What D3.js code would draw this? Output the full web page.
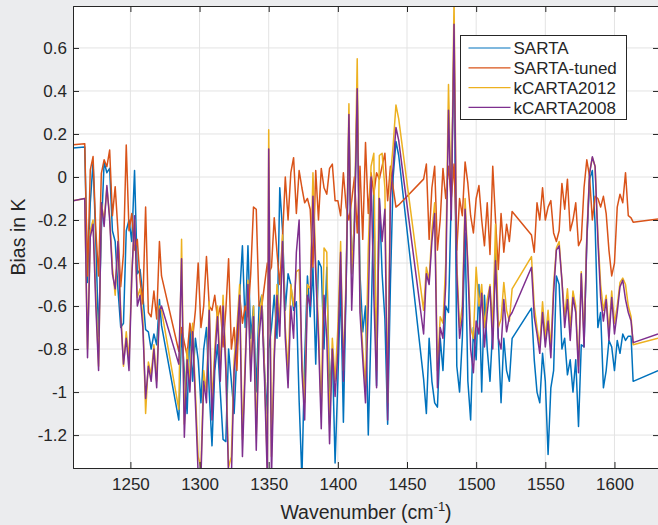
<!DOCTYPE html>
<html>
<head>
<meta charset="utf-8">
<script src="https://cdn.jsdelivr.net/npm/d3@7"></script>
<style>
  body { margin: 0; background: #ebecee; }
  #visContainer { width: 658px; height: 525px; overflow: hidden; }
  text { font-family: "Liberation Sans", Arial, Helvetica, sans-serif; fill: #262626; }
</style>
</head>
<body>
<div id="visContainer"></div>
<script>
'use strict';

// wavenumbers (cm-1) shared by all four series
var wavenumbers = [
  1208.5, 1217, 1219, 1221, 1223, 1225, 1227, 1229, 1231, 1233, 1235, 1237, 1239, 1241, 1243,
  1245, 1247, 1249, 1251, 1253, 1255, 1257, 1259, 1261, 1263, 1265, 1267, 1269, 1271, 1272.5,
  1285, 1287, 1289, 1291, 1293, 1295, 1297, 1299, 1301, 1303, 1305, 1307, 1309, 1311, 1313,
  1315, 1317, 1319, 1321, 1323, 1325, 1327, 1329, 1331, 1333, 1335, 1337, 1339, 1341, 1343,
  1345, 1347, 1349, 1350,
  1352, 1354, 1356, 1358, 1360, 1362, 1364, 1366, 1368, 1370, 1372, 1374, 1376, 1378, 1380,
  1382, 1384, 1386, 1388, 1390, 1392, 1394, 1396, 1398, 1400, 1402, 1404, 1406, 1408, 1410,
  1412, 1414, 1416, 1418, 1420, 1422, 1424, 1426, 1428, 1430, 1432, 1434, 1436, 1438, 1440,
  1442, 1444,
  1462, 1464, 1466, 1468, 1470, 1472, 1474, 1476, 1478, 1480, 1482, 1484, 1486, 1488, 1490,
  1492, 1494, 1496, 1498, 1500, 1502, 1504, 1506, 1508, 1510, 1512, 1514, 1516, 1518, 1520,
  1522, 1524, 1526, 1540,
  1542, 1544, 1546, 1548, 1550, 1552, 1554, 1556, 1558, 1560, 1562, 1564, 1566, 1568, 1570,
  1572, 1574, 1576, 1578, 1580, 1582, 1584, 1586, 1588, 1590, 1592, 1594, 1596, 1598, 1600,
  1602, 1604, 1606, 1608, 1610, 1612, 1613.5, 1631.5
];

var sarta = [
  0.135, 0.14, -0.49, -0.12, 0.07, -0.3, -0.74, -0.25, 0.07, 0.02, 0.04, -0.25, -0.3, -0.52, -0.7,
  -0.68, -0.25, -0.2, -0.3, 0.03, -0.45, -0.43, -0.55, -0.71, -0.72, -0.8, -0.73, -0.78, -0.57, -0.69,
  -1.13, -0.72, -0.9, -1.1, -0.7, -0.95, -0.75, -0.85, -1.05, -0.8, -0.7, -1.0, -1.25, -0.9, -0.78,
  -1.0, -1.22, -1.23, -0.8, -0.95, -1.1, -0.82, -0.55, -0.32, -0.7, -0.32, -0.75, -0.6, -1.0, -0.6,
  -0.55, -0.9, -1.1, -0.8,
  -0.7, -0.55, -0.75, -0.05, -0.25, -0.62, -0.45, -0.5, -0.62, -0.58, -1.04, -1.4, -0.85, -0.46, -0.65,
  -0.42, -0.87, -0.39, -0.42, -0.8, -0.42, -1.0, -0.8, -1.33, -0.95, -0.5, -1.14, -0.5, 0.25, -0.45,
  -0.2, 0.38, -0.45, -0.72, -0.6, -1.2, -0.7, -0.08, -0.97, -0.1, -0.45, -0.66, -1.15, -0.5, 0.0,
  0.165, 0.1,
  -0.94, -1.1, -0.75, -0.95, -1.05, -1.07, -0.75, -0.9, -0.6, -0.63, -0.1, 0.62, -0.88, -1.0, -0.75,
  -0.26, -0.95, -1.13, -0.7, -0.85, -0.5, -1.0, -0.55, -0.8, -0.95, -0.7, -0.34, -0.75, -1.05, -0.75,
  -0.9, -0.95, -0.75, -0.61,
  -0.85, -1.0, -1.05, -0.82, -0.95, -1.29, -0.98, -0.9, -0.46, -0.5, -0.8, -0.75, -0.92, -0.85, -1.0,
  -0.85, -1.16, -0.78, -0.79, -0.3, -0.01, 0.03, -0.22, -0.7, -0.63, -0.98, -0.9, -0.76, -0.79, -0.9,
  -0.76, -0.82, -0.73, -0.76, -0.74, -0.74, -0.95, -0.9
];

var sartaTuned = [
  0.15, 0.155, -0.46, 0.033, 0.095, -0.25, -0.46, 0.017, 0.08, 0.048, 0.125, -0.18, -0.045, -0.25, -0.51,
  -0.355, 0.149, -0.25, -0.17, -0.34, -0.29, -0.48, -0.59, -0.14, -0.63, -0.65, -0.53, -0.66, -0.3, -0.46,
  -0.81, -0.7, -0.77, -0.83, -0.68, -0.75, -0.62, -0.4, -0.7, -0.6, -0.37, -0.6, -0.62, -0.55, -0.66,
  -0.6, -0.79, -0.62, -0.38, -0.8, -0.7, -0.9, -0.55, -0.68, -0.6, -0.65, -0.45, -0.14, -0.15, -0.6,
  -0.6, -0.5, -0.4, -0.45,
  -0.42, -0.19, -0.35, -0.5, -0.28, 0.0, -0.2, 0.02, 0.09, -0.17, 0.03, -0.05, -0.12, -0.1, -0.15,
  -0.42, 0.03, -0.2, 0.04, -0.05, -0.08, 0.04, 0.06, -0.11, -0.11, -0.18, 0.02, -0.14, -0.2, -0.11,
  0.0, -0.26, 0.05, -0.29, 0.16, -0.17, 0.02, -0.08, 0.02, -0.01, 0.05, 0.11, -0.11, 0.05, -0.05,
  -0.14, -0.13,
  -0.01, 0.06, -0.29, -0.05, 0.05, -0.34, -0.2, 0.04, -0.1, 0.05, -0.1, 0.06, -0.34, -0.1, -0.18,
  0.07, -0.03, -0.18, -0.26, -0.1, -0.04, -0.2, -0.32, -0.12, -0.36, 0.05, -0.2, -0.43, -0.17, -0.35,
  -0.22, -0.3, -0.16, -0.27,
  -0.35, -0.12, -0.2, -0.05, -0.2, -0.14, -0.11, -0.26, -0.3, -0.25, -0.03, -0.15, -0.01, -0.25, -0.2,
  -0.12, -0.32, -0.29, -0.05, 0.08, 0.0, -0.2, -0.09, -0.1, -0.14, -0.09, -0.17, -0.34, -0.46, -0.4,
  -0.14, -0.08, -0.12, 0.02, -0.18, -0.19, -0.21, -0.195
];

var kcarta2012 = [
  -0.11, -0.10, -0.8, -0.25, -0.2, -0.55, -0.88, -0.12, -0.2, -0.05, -0.18, -0.42, -0.55, -0.3, -0.62,
  -0.88, -0.72, -0.85, -0.45, -0.2, -0.56, -0.52, -0.65, -1.1, -0.86, -0.92, -0.78, -0.95, -0.6, -0.62,
  -1.08, -0.29, -1.15, -0.8, -0.95, -0.68, -1.0, -1.3, -1.35, -0.9, -1.0, -0.58, -1.05, -0.8, -0.6,
  -0.9, -0.55, -0.85, -1.35, -1.3, -0.85, -0.7, -0.5, -1.22, -0.85, -0.48, -0.9, -0.6, -1.2, -0.7,
  -0.55, -0.9, -1.35, 0.22,
  -1.3, -0.8, -0.5, -0.68, -0.27, -0.7, -0.9, -0.5, -0.6, -0.44, -0.43, -0.85, -1.05, -0.5, -0.52,
  0.02, -0.4, -0.7, -1.1, -0.33, -0.35, -1.15, -0.75, -0.95, -0.7, -0.3, -0.9, -0.45, 0.34, -0.45,
  -0.2, 0.55, -0.58, -0.8, -0.98, -0.33, 0.05, 0.11, -0.9, 0.1, 0.11, -0.05, -1.05, 0.0, 0.15,
  0.335, 0.27,
  -0.62, -0.42, -0.48, -0.25, -0.12, -0.9, -0.65, -0.68, -0.4, 0.43, -0.15, 0.82, -0.4, -0.7, -0.6,
  -0.1, -0.4, -0.7, -0.75, -0.42, -0.6, -0.5, -0.7, -0.57, -0.5, -0.7, -0.22, -0.7, -0.66, -0.49,
  -0.62, -0.67, -0.52, -0.37,
  -0.6, -0.7, -0.78, -0.58, -0.75, -0.62, -0.8, -0.5, -0.33, -0.3, -0.48, -0.65, -0.52, -0.7, -0.53,
  -0.6, -0.88, -0.44, -0.75, -0.27, 0.02, 0.09, 0.05, -0.27, -0.5, -0.62, -0.55, -0.72, -0.53, -0.68,
  -0.6, -0.49, -0.47, -0.5, -0.6, -0.65, -0.78, -0.75
];

var kcarta2008 = [
  -0.11, -0.10, -0.84, -0.28, -0.22, -0.6, -0.9, -0.12, -0.23, -0.04, -0.2, -0.45, -0.52, -0.3, -0.65,
  -0.87, -0.75, -0.9, -0.47, -0.18, -0.6, -0.55, -0.7, -1.03, -0.88, -0.95, -0.8, -0.98, -0.62, -0.6,
  -0.87, -0.38, -1.21, -0.85, -1.0, -0.72, -1.05, -1.38, -1.4, -0.95, -1.05, -0.62, -1.13, -0.85, -0.65,
  -0.95, -0.6, -0.9, -1.4, -1.4, -0.9, -0.75, -0.55, -1.3, -0.9, -0.5, -0.95, -0.65, -1.27, -0.75,
  -0.6, -0.95, -1.4, 0.13,
  -1.4, -0.85, -0.55, -0.74, -0.3, -0.75, -0.98, -0.6, -0.75, -0.35, -0.2, -0.9, -1.13, -0.55, -0.6,
  -0.09, -0.45, -0.75, -1.17, -0.55, -0.75, -1.24, -0.8, -1.02, -0.82, -0.35, -0.95, -0.5, 0.29, -0.62,
  -0.25, 0.41, -0.63, -0.85, -1.05, -0.6, 0.0, -0.55, -0.98, -0.1, -0.3, -0.15, -1.13, -0.1, 0.05,
  0.23, 0.17,
  -0.73, -0.45, -0.5, -0.3, -0.17, -0.98, -0.7, -0.75, -0.5, 0.31, -0.2, 0.71, -0.45, -0.75, -0.65,
  -0.15, -0.42, -0.8, -0.91, -0.67, -0.73, -0.54, -0.79, -0.63, -0.51, -0.8, -0.39, -0.75, -0.8, -0.57,
  -0.72, -0.65, -0.63, -0.42,
  -0.65, -0.73, -0.82, -0.63, -0.79, -0.67, -0.84, -0.54, -0.34, -0.32, -0.48, -0.7, -0.57, -0.76, -0.56,
  -0.63, -0.91, -0.45, -0.79, -0.29, 0.017, 0.094, 0.048, -0.29, -0.56, -0.67, -0.57, -0.76, -0.56, -0.73,
  -0.63, -0.51, -0.48, -0.57, -0.63, -0.67, -0.77, -0.73
];

var seriesNames = ['SARTA', 'SARTA-tuned', 'kCARTA2012', 'kCARTA2008'];
var seriesColors = ['#0072bd', '#d95319', '#edb120', '#7e2f8e'];
var seriesValues = [sarta, sartaTuned, kcarta2012, kcarta2008];
var xTicks = [1250, 1300, 1350, 1400, 1450, 1500, 1550, 1600];
var yTicks = [-1.2, -1, -0.8, -0.6, -0.4, -0.2, 0, 0.2, 0.4, 0.6];

var width = 658;
var height = 525;
var plot = { left: 73, top: 6, right: 659, bottom: 468 };
var tickLen = 6;
var axisColor = '#262626';

var svg = d3.select('#visContainer')
    .append('svg')
    .attr('width', width)
    .attr('height', height);

svg.append('rect')
    .attr('width', width).attr('height', height)
    .attr('fill', '#ebecee');

var x = d3.scaleLinear()
    .domain([1208.5, 1632.2])
    .range([plot.left, plot.right]);
var y = d3.scaleLinear()
    .domain([-1.353, 0.795])
    .range([plot.bottom, plot.top]);

svg.append('rect')
    .attr('x', plot.left).attr('y', plot.top)
    .attr('width', plot.right - plot.left).attr('height', plot.bottom - plot.top)
    .attr('fill', 'white');

// grid
svg.append('g')
    .selectAll('line.vg').data(xTicks).enter().append('line')
    .attr('x1', function(d){ return x(d); }).attr('x2', function(d){ return x(d); })
    .attr('y1', plot.top).attr('y2', plot.bottom)
    .attr('stroke', '#e3e3e3').attr('stroke-width', 1);
svg.append('g')
    .selectAll('line.hg').data(yTicks).enter().append('line')
    .attr('y1', function(d){ return y(d); }).attr('y2', function(d){ return y(d); })
    .attr('x1', plot.left).attr('x2', plot.right)
    .attr('stroke', '#e3e3e3').attr('stroke-width', 1);

svg.append('clipPath').attr('id', 'plotClip')
    .append('rect')
    .attr('x', plot.left).attr('y', plot.top)
    .attr('width', plot.right - plot.left).attr('height', plot.bottom - plot.top);

var line = d3.line()
    .x(function(d){ return x(d[0]); })
    .y(function(d){ return y(d[1]); });

var lines = svg.append('g').attr('clip-path', 'url(#plotClip)');
seriesValues.forEach(function(vals, i){
  var pts = wavenumbers.map(function(w, j){ return [w, vals[j]]; });
  lines.append('path')
      .attr('d', line(pts))
      .attr('fill', 'none')
      .attr('stroke', seriesColors[i])
      .attr('stroke-width', 1.5)
      .attr('stroke-linejoin', 'round');
});

// axes: bottom/left with labels, top/right ticks only (ticks point inward)
var fmt = function(d){ return d === 0 ? '0' : String(+d.toFixed(1)); };

var xAxis = svg.append('g')
    .attr('transform', 'translate(0,' + plot.bottom + ')')
    .call(d3.axisBottom(x).tickValues(xTicks).tickSize(-tickLen).tickPadding(12).tickFormat(d3.format('d')));
var xAxisTop = svg.append('g')
    .attr('transform', 'translate(0,' + plot.top + ')')
    .call(d3.axisTop(x).tickValues(xTicks).tickSize(-tickLen).tickFormat(''));
var yAxis = svg.append('g')
    .attr('transform', 'translate(' + plot.left + ',0)')
    .call(d3.axisLeft(y).tickValues(yTicks).tickSize(-tickLen).tickPadding(6).tickFormat(fmt));
var yAxisRight = svg.append('g')
    .attr('transform', 'translate(' + plot.right + ',0)')
    .call(d3.axisRight(y).tickValues(yTicks).tickSize(-tickLen).tickFormat(''));

[xAxis, xAxisTop, yAxis, yAxisRight].forEach(function(g){
  g.select('.domain').attr('stroke', axisColor).attr('stroke-width', 1);
  g.selectAll('.tick line').attr('stroke', axisColor).attr('stroke-width', 1);
  g.selectAll('.tick text')
      .attr('fill', axisColor)
      .style('font-family', '"Liberation Sans", Arial, Helvetica, sans-serif')
      .style('font-size', '17px');
});
xAxis.selectAll('.tick text').attr('dy', '0.6em');

// axis labels
svg.append('text')
    .attr('transform', 'translate(25,' + ((plot.top + plot.bottom) / 2) + ') rotate(-90)')
    .attr('text-anchor', 'middle')
    .style('font-size', '19.5px')
    .text('Bias in K');

var xl = svg.append('text')
    .attr('x', (plot.left + plot.right) / 2)
    .attr('y', 519)
    .attr('text-anchor', 'middle')
    .style('font-size', '19.5px');
xl.append('tspan').text('Wavenumber (cm');
xl.append('tspan').text('-1').attr('dy', -8).style('font-size', '13px');
xl.append('tspan').text(')').attr('dy', 8);

// legend
var legend = svg.append('g').attr('transform', 'translate(460.5,35.5)');
legend.append('rect')
    .attr('width', 166).attr('height', 84)
    .attr('fill', 'white')
    .attr('stroke', axisColor).attr('stroke-width', 1);
seriesNames.forEach(function(name, i){
  var yy = 12.5 + i * 19.8;
  legend.append('line')
      .attr('x1', 8).attr('x2', 50)
      .attr('y1', yy).attr('y2', yy)
      .attr('stroke', seriesColors[i]).attr('stroke-width', 1.2);
  legend.append('text')
      .attr('x', 53).attr('y', yy)
      .attr('dy', '0.36em')
      .style('font-size', '17px')
      .text(name);
});
</script>
</body>
</html>
